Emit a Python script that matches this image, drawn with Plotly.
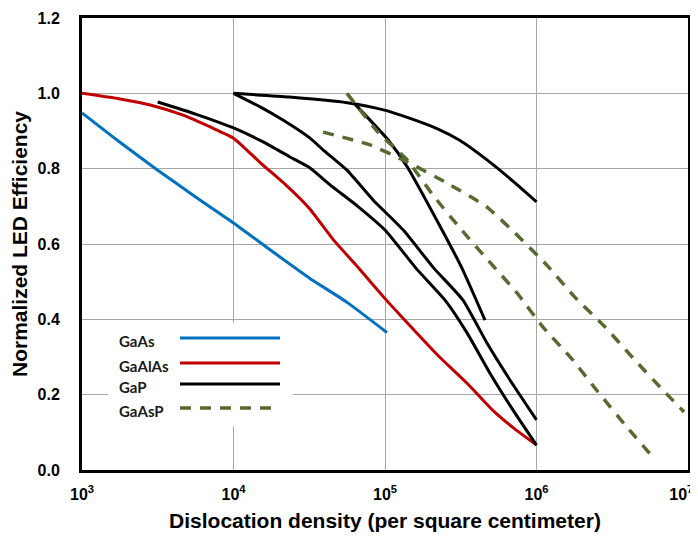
import plotly.graph_objects as go

# ---------------- data ----------------
gaas_x = [1000, 1780, 3160, 5620, 10000, 17800, 31600, 56200, 103000]
gaas_y = [0.948, 0.870, 0.796, 0.725, 0.656, 0.582, 0.510, 0.445, 0.365]

gaalas_x = [1000, 1780, 2820, 4650, 7080, 10000, 15100, 22400, 31600, 45700,
            66100, 100000, 126000, 229000, 347000, 513000, 708000, 1000000]
gaalas_y = [1.0, 0.985, 0.969, 0.942, 0.910, 0.881, 0.815, 0.755, 0.695, 0.611,
            0.539, 0.455, 0.411, 0.300, 0.231, 0.159, 0.111, 0.066]

gap_a_x = [10000, 23400, 56200, 97700, 145000, 224000, 309000, 490000, 708000, 1000000]
gap_a_y = [1.0, 0.99, 0.975, 0.956, 0.934, 0.905, 0.876, 0.818, 0.765, 0.712]

gap_b_x = [3160, 5620, 10000, 15700, 23600, 32000, 43400, 66100, 100000, 160000,
           249000, 348000, 493000, 700000, 1000000]
gap_b_y = [0.977, 0.945, 0.908, 0.871, 0.831, 0.802, 0.757, 0.700, 0.637, 0.536,
           0.451, 0.364, 0.257, 0.159, 0.066]

gap_c_x = [10000, 15000, 21200, 32000, 39000, 56100, 83400, 132000, 210000, 327000,
           471000, 668000, 1000000]
gap_c_y = [1.0, 0.964, 0.929, 0.881, 0.850, 0.796, 0.717, 0.637, 0.536, 0.451,
           0.337, 0.239, 0.133]

gap_d_x = [63100, 105000, 140000, 238000, 322000, 457000]
gap_d_y = [0.972, 0.876, 0.805, 0.637, 0.536, 0.398]

gaasp_a_x = [56100, 89900, 140000, 207000, 313000, 479000, 743000, 1100000,
             1710000, 2550000, 3950000, 5700000]
gaasp_a_y = [1.0, 0.897, 0.823, 0.730, 0.642, 0.557, 0.470, 0.380, 0.295, 0.207,
             0.114, 0.040]

gaasp_b_x = [39000, 79600, 140000, 256000, 471000, 721000, 1170000, 1790000,
             2830000, 4340000, 6840000, 9420000]
gaasp_b_y = [0.897, 0.863, 0.818, 0.762, 0.698, 0.629, 0.544, 0.459, 0.380, 0.297,
             0.212, 0.154]

x_tickvals = [1e3, 1e4, 1e5, 1e6, 1e7]
x_ticktext = ["10<sup>3</sup>", "10<sup>4</sup>", "10<sup>5</sup>", "10<sup>6</sup>",
              "10<sup>7</sup>&nbsp;&nbsp;&nbsp;"]
y_tickvals = [0.0, 0.2, 0.4, 0.6, 0.8, 1.0, 1.2]

legend_names = ["GaAs", "GaAlAs", "GaP", "GaAsP"]

# ---------------- styles ----------------
BLUE = "#0070c0"
RED = "#c00000"
BLACK = "#000000"
GREEN = "#586a30"
colors = [BLUE, RED, BLACK, GREEN]
dashes = ["solid", "solid", "solid", "11px,9px"]

fig = go.Figure()

def add(x, y, color, dash="solid", width=3):
    fig.add_trace(go.Scatter(x=x, y=y, mode="lines", showlegend=False,
                             line=dict(color=color, width=width, dash=dash,
                                       shape="spline", smoothing=0.5)))

add(gaas_x, gaas_y, BLUE)
add(gaalas_x, gaalas_y, RED)
add(gap_a_x, gap_a_y, BLACK)
add(gap_b_x, gap_b_y, BLACK)
add(gap_c_x, gap_c_y, BLACK)
add(gap_d_x, gap_d_y, BLACK)
add(gaasp_a_x, gaasp_a_y, GREEN, dashes[3], 3.5)
add(gaasp_b_x, gaasp_b_y, GREEN, dashes[3], 3.5)

# ---------------- manual legend (text left, line sample right) ----------------
shapes = [dict(type="rect", xref="paper", yref="paper", x0=0.043, x1=0.348,
               y0=0.097, y1=0.325, fillcolor="white", line=dict(width=0), layer="above")]
annotations = []
leg_y = [0.292, 0.2367, 0.190, 0.137]
for name, c, d, yy in zip(legend_names, colors, dashes, leg_y):
    shapes.append(dict(type="line", xref="paper", yref="paper", x0=0.1617, x1=0.3267,
                       y0=yy, y1=yy, layer="above",
                       line=dict(color=c, width=3.5 if d != "solid" else 3, dash=d)))
    annotations.append(dict(xref="paper", yref="paper", x=0.057, y=yy - 0.006,
                            xanchor="left", yanchor="middle", showarrow=False,
                            text="<b>%s</b>" % name,
                            font=dict(family="Lato", size=15, color="#1a1a1a")))

# the page body has an 8px margin, so margins are reduced by 8px on left/top
fig.update_layout(
    width=698, height=537,
    margin=dict(l=74, r=18, t=10, b=75, autoexpand=False),
    paper_bgcolor="white", plot_bgcolor="white",
    shapes=shapes, annotations=annotations,
    font=dict(family="Liberation Sans", color="#000000"),
)

fig.update_xaxes(
    type="log", range=[3, 7], tickvals=x_tickvals, ticktext=x_ticktext,
    showgrid=True, gridcolor="#a6a6a6", gridwidth=1.2,
    showline=True, linecolor="black", linewidth=3, mirror=True,
    ticks="", ticklabelstandoff=8, automargin=False, ticklabeloverflow="allow",
    tickfont=dict(family="Liberation Sans", size=16, color="black", weight="bold"),
    title=dict(text="<b>Dislocation density (per square centimeter)</b>",
               font=dict(family="Liberation Sans", size=21, color="black"), standoff=12),
    zeroline=False,
)
fig.update_yaxes(
    range=[0, 1.2], tickvals=y_tickvals, tickformat=".1f",
    showgrid=True, gridcolor="#a6a6a6", gridwidth=1.2,
    showline=True, linecolor="black", linewidth=3, mirror=True,
    ticks="", ticklabelstandoff=16, automargin=False,
    tickfont=dict(family="Liberation Sans", size=16, color="black", weight="bold"),
    title=dict(text="<b>Normalized LED Efficiency</b>",
               font=dict(family="Liberation Sans", size=21, color="black"), standoff=5),
    zeroline=False,
)

fig.write_html("out.html")
